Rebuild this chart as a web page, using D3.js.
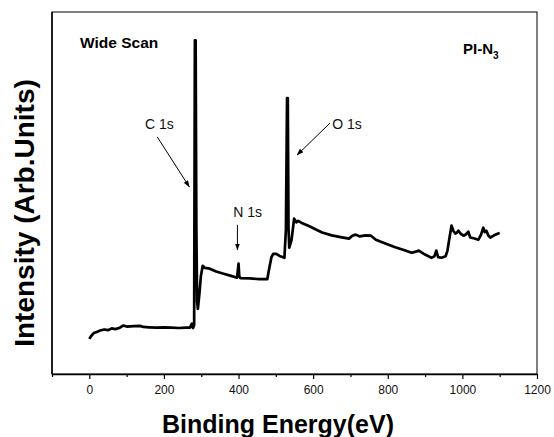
<!DOCTYPE html>
<html lang="en">
<head>
<meta charset="utf-8">
<title>XPS wide scan</title>
<script src="https://d3js.org/d3.v7.min.js"></script>
<style>
  body { margin: 0; background: #fff; }
  text { font-family: Arial, "Liberation Sans", sans-serif; }
</style>
</head>
<body>
<div id="chart"></div>
<script>
// binding energy (eV) and intensity (arb. units)
var energy = [0, 5, 12, 20, 29, 40, 50, 60, 70, 80, 91, 100, 120, 136, 145, 160, 180, 200, 220, 240, 260, 270, 275, 278, 281, 283, 285, 287, 289, 291, 295, 299, 304, 310, 323, 340, 360, 380, 396, 398, 400, 402, 405, 430, 455, 477, 482, 488, 493, 501, 510, 523, 527, 530, 532, 534, 536, 542, 549, 555, 560, 568, 590, 610, 624, 650, 670, 696, 705, 714, 725, 740, 755, 768, 790, 820, 845, 864, 875, 883, 900, 917, 925, 930, 935, 944, 955, 960, 966, 971, 976, 981, 985, 989, 995, 1003, 1010, 1016, 1021, 1030, 1043, 1050, 1056, 1060, 1064, 1070, 1075, 1085, 1096, 1100];
var intensity = [9.7, 10.5, 11.3, 11.6, 12.0, 12.3, 12.1, 12.6, 12.4, 12.7, 13.4, 13.1, 13.2, 13.3, 13.0, 12.9, 12.8, 12.9, 12.8, 12.7, 12.8, 12.8, 13.9, 12.7, 13.5, 92.2, 92.2, 40, 20, 18.0, 22, 27, 29.9, 29.3, 29.1, 28.3, 27.7, 27.1, 26.6, 28.5, 30.5, 27, 26.5, 26.4, 26.2, 26.2, 29, 32.2, 33.2, 33.2, 32.6, 32.1, 40, 76.2, 76.2, 40, 34.9, 37, 42.9, 41.9, 42.3, 41.8, 40.8, 39.8, 39.1, 38.3, 37.9, 37.4, 38.2, 38.5, 38.0, 38.3, 38.2, 37.1, 36.2, 35.0, 34.2, 33.5, 33.8, 34.1, 33.0, 32.1, 32.5, 34.1, 32.3, 32.1, 32.5, 34.1, 38, 41.0, 39.5, 38.8, 39.0, 39.6, 38.8, 38.2, 38.6, 39.3, 37.7, 37.5, 37.1, 38.5, 40.4, 39.2, 39.6, 38.2, 37.7, 38.3, 38.8, 38.9];

var majorTicks = [0, 200, 400, 600, 800, 1000, 1200];
var minorTicks = [-100, 100, 300, 500, 700, 900, 1100];

// peak labels: name, label position, arrow start and end (eV / intensity)
var peakNames = ["C 1s", "N 1s", "O 1s"];
var peakLabelAt = [[149, 67.7], [386, 43.4], [651, 67.7]];
var arrowFrom = [[182, 65.5], [397, 41.2], [645, 69.3]];
var arrowTo = [[268, 51.7], [397, 34.3], [557, 60.5]];

var W = 554, H = 437;
var margin = {top: 12, right: 17, bottom: 63, left: 52};

var x = d3.scaleLinear().domain([-100, 1200]).range([margin.left, W - margin.right]);
var y = d3.scaleLinear().domain([0, 100]).range([H - margin.bottom, margin.top]);

var svg = d3.select("#chart").append("svg")
    .attr("width", W)
    .attr("height", H);

svg.append("defs").append("marker")
    .attr("id", "head")
    .attr("viewBox", "0 0 10 10")
    .attr("refX", 9).attr("refY", 5)
    .attr("markerWidth", 7).attr("markerHeight", 7)
    .attr("orient", "auto")
  .append("path")
    .attr("d", "M0,1.5 L10,5 L0,8.5 Z")
    .attr("fill", "#000");

// frame
svg.append("rect")
    .attr("x", margin.left)
    .attr("y", margin.top)
    .attr("width", x.range()[1] - margin.left)
    .attr("height", y.range()[0] - margin.top)
    .attr("fill", "none")
    .attr("stroke", "#000")
    .attr("stroke-width", 1);

// bottom axis, major ticks with labels
var xAxis = svg.append("g")
    .attr("transform", `translate(0, ${y.range()[0]})`)
    .call(d3.axisBottom(x).tickValues(majorTicks).tickFormat(d3.format("d"))
      .tickSize(5).tickSizeOuter(0).tickPadding(6));
xAxis.select(".domain").attr("stroke-width", 1.5);
xAxis.selectAll(".tick line").attr("stroke-width", 1.2);
xAxis.selectAll(".tick text")
    .attr("font-size", 12)
    .attr("font-family", "Arial, 'Liberation Sans', sans-serif")
    .attr("fill", "#111");

// minor ticks
svg.append("g")
    .attr("transform", `translate(0, ${y.range()[0]})`)
    .call(d3.axisBottom(x).tickValues(minorTicks).tickSize(3).tickFormat(""))
    .call(g => g.select(".domain").remove())
    .selectAll(".tick line").attr("stroke-width", 1.2);

// left axis line (no ticks)
svg.append("line")
    .attr("x1", margin.left).attr("x2", margin.left)
    .attr("y1", margin.top).attr("y2", y.range()[0])
    .attr("stroke", "#000").attr("stroke-width", 1.5);

// spectrum
var line = d3.line()
    .x((d, i) => x(energy[i]))
    .y(d => y(d));

svg.append("path")
    .datum(intensity)
    .attr("d", line)
    .attr("fill", "none")
    .attr("stroke", "#000")
    .attr("stroke-width", 2.7)
    .attr("stroke-linejoin", "round");

// peak annotations
peakNames.forEach(function(name, i) {
  svg.append("text")
      .attr("x", x(peakLabelAt[i][0]))
      .attr("y", y(peakLabelAt[i][1]))
      .attr("font-size", 14)
      .attr("fill", "#111")
      .text(name);
  svg.append("line")
      .attr("x1", x(arrowFrom[i][0])).attr("y1", y(arrowFrom[i][1]))
      .attr("x2", x(arrowTo[i][0])).attr("y2", y(arrowTo[i][1]))
      .attr("stroke", "#000")
      .attr("stroke-width", 1)
      .attr("marker-end", "url(#head)");
});

// corner labels
svg.append("text")
    .attr("x", 80).attr("y", 48)
    .attr("font-size", 15.5).attr("font-weight", "bold")
    .text("Wide Scan");

var pi = svg.append("text")
    .attr("x", 463).attr("y", 54)
    .attr("font-size", 15).attr("font-weight", "bold")
    .text("PI-N");
pi.append("tspan")
    .attr("dy", 5).attr("font-size", 10)
    .text("3");

// axis titles
svg.append("text")
    .attr("x", 278)
    .attr("y", 433)
    .attr("text-anchor", "middle")
    .attr("font-size", 25).attr("font-weight", "bold")
    .text("Binding Energy(eV)");

svg.append("text")
    .attr("transform", "translate(34, 213) rotate(-90)")
    .attr("text-anchor", "middle")
    .attr("font-size", 28).attr("font-weight", "bold")
    .text("Intensity (Arb.Units)");
</script>
</body>
</html>
